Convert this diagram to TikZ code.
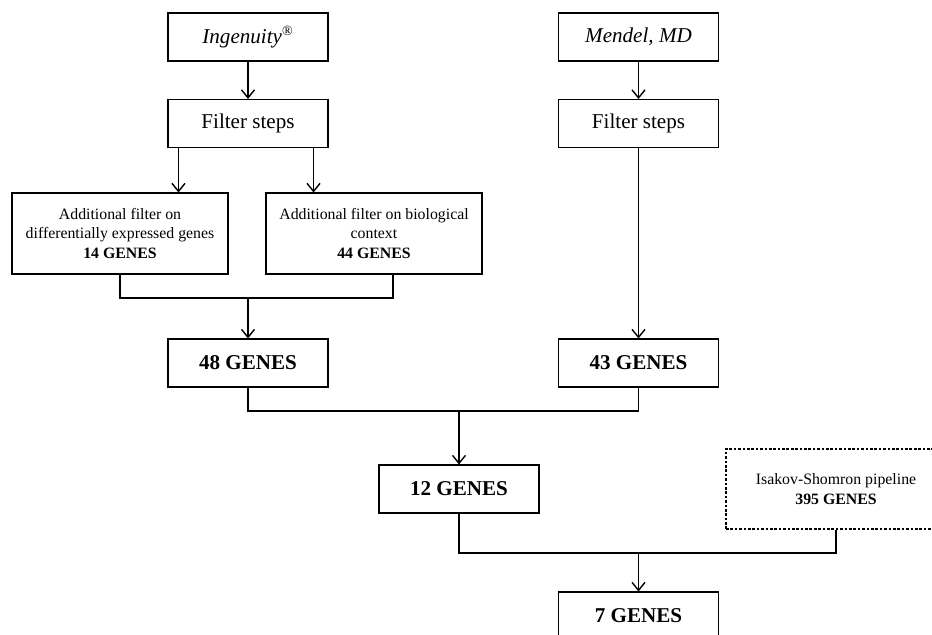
\documentclass[tikz,border=0pt]{standalone}
\usepackage{fontspec}
\setmainfont{Liberation Serif}
\usetikzlibrary{positioning, arrows.meta}

\begin{document}
\begin{tikzpicture}
[box/.style={rectangle, draw, line width=0.6pt, minimum width=3.2cm, minimum height=0.96cm,
   inner sep=2pt, align=center, font=\fontsize{12}{14}\selectfont},
 res/.style={box, font=\fontsize{12}{14}\selectfont\bfseries},
 small/.style={box, minimum width=4.32cm, minimum height=1.62cm, font=\fontsize{9}{11}\selectfont},
 ->/.style={line width=0.6pt, arrows={-Straight Barb[length=1.6mm, width=2.6mm, line width=0.8pt]}},
 link/.style={line width=0.6pt}]

\useasboundingbox (0,0) rectangle (18.64,-12.7);

% two sources and their filters
\node[box] (ing) at (4.96,-0.74) {\textit{Ingenuity}\textsuperscript{\textregistered}};
\node[box] (fl) at (4.96,-2.47) {Filter steps};
\node[box] (men) at (12.77,-0.74) {\textit{Mendel, MD}};
\node[box] (fr) at (12.77,-2.47) {Filter steps};

\node[small] (ad1) at (2.4,-4.67) {Additional filter on\\differentially expressed genes\\\textbf{14 GENES}};
\node[small] (ad2) at (7.48,-4.67) {Additional filter on biological\\context\\\textbf{44 GENES}};

% gene counts
\node[res] (g48) at (4.96,-7.26) {48 GENES};
\node[res] (g43) at (12.77,-7.26) {43 GENES};
\node[res] (g12) at (9.18,-9.78) {12 GENES};
\node[box, dash pattern=on 1.5pt off 1pt, minimum width=4.4cm, minimum height=1.6cm,
  font=\fontsize{9}{11}\selectfont] (isa) at (16.72,-9.78) {Isakov-Shomron pipeline\\\textbf{395 GENES}};
\node[res] (g7) at (12.77,-12.32) {7 GENES};

% junctions
\coordinate (j1) at (4.96,-5.96);
\coordinate (j2) at (9.18,-8.22);
\coordinate (j3) at (12.77,-11.06);

  \draw [->] (ing) -- (fl);
  \draw [->] (men) -- (fr);
  \draw [->] ([xshift=0.22cm]fl.south west) -- ([xshift=0.22cm]fl.south west |- ad1.north);
  \draw [->] ([xshift=-0.3cm]fl.south east) -- ([xshift=-0.3cm]fl.south east |- ad2.north);
  \draw [->] (fr) -- (g43);

  \draw [link] (ad1.south) |- (j1) -| ([xshift=0.38cm]ad2.south);
  \draw [->] (j1) -- (g48);
  \draw [link] (g48.south) |- (j2) -| (g43.south);
  \draw [->] (j2) -- (g12);
  \draw [link] (g12.south) |- (j3) -| (isa.south);
  \draw [->] (j3) -- (g7);

\end{tikzpicture}
\end{document}
